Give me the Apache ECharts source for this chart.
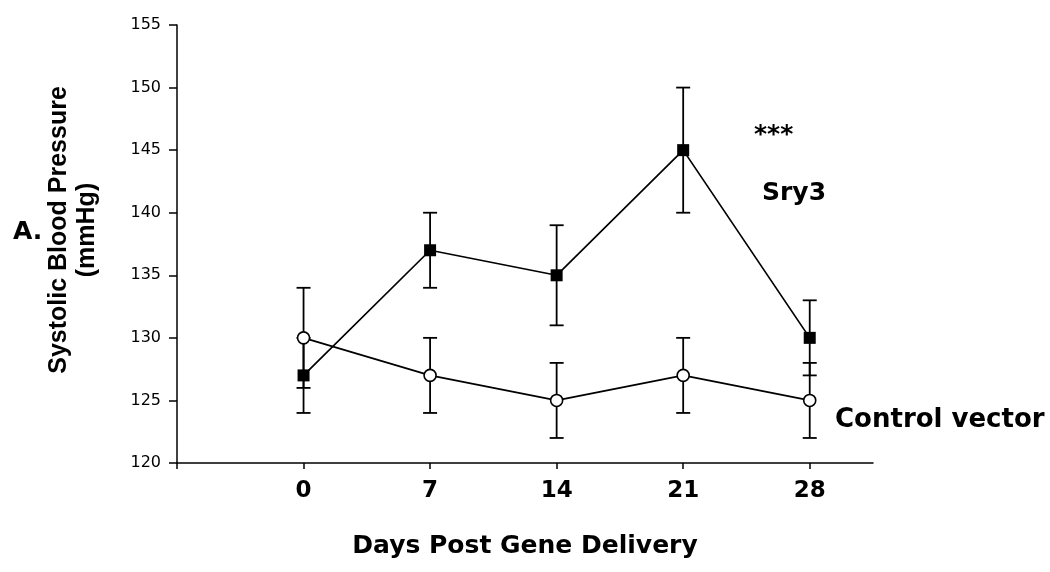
<!DOCTYPE html>
<html>
<head>
<meta charset="utf-8">
<script src="https://cdn.jsdelivr.net/npm/echarts@6/dist/echarts.min.js"></script>
<style>
  html, body { margin: 0; padding: 0; background: #fff; }
  #chart { width: 1050px; height: 572px; }
</style>
</head>
<body>
<div id="chart"></div>
<script>
const days = [0, 7, 14, 21, 28];
const sry3Mean = [127, 137, 135, 145, 130];
const sry3Err = [3, 3, 4, 5, 3];
const controlMean = [130, 127, 125, 127, 125];
const controlErr = [4, 3, 3, 3, 3];
const xTickValues = [-7, 0, 7, 14, 21, 28];

const BOLD = "'DejaVu Sans', sans-serif";
const chart = echarts.init(document.getElementById("chart"));

function errorBars(mean, err) {
  return {
    type: "custom",
    z: 1,
    silent: true,
    data: days.map((d, i) => [d, mean[i], err[i]]),
    renderItem: function (params, api) {
      const x = api.value(0), m = api.value(1), e = api.value(2);
      const top = api.coord([x, m + e]);
      const bot = api.coord([x, m - e]);
      const hw = 7;
      const st = { stroke: "#000", lineWidth: 1.8 };
      return {
        type: "group",
        children: [
          { type: "line", shape: { x1: top[0], y1: top[1], x2: bot[0], y2: bot[1] }, style: st },
          { type: "line", shape: { x1: top[0] - hw, y1: top[1], x2: top[0] + hw, y2: top[1] }, style: st },
          { type: "line", shape: { x1: bot[0] - hw, y1: bot[1], x2: bot[0] + hw, y2: bot[1] }, style: st }
        ]
      };
    }
  };
}

chart.setOption({
  animation: false,
  backgroundColor: "#fff",
  grid: { left: 177, right: 177, top: 25, bottom: 109 },
  xAxis: {
    type: "value",
    min: -7,
    max: 31.5,
    interval: 7,
    name: "Days Post Gene Delivery",
    nameLocation: "middle",
    nameGap: 71,
    nameTextStyle: { fontFamily: BOLD, fontWeight: "bold", fontSize: 25, color: "#000" },
    axisLine: { show: true, onZero: false, lineStyle: { color: "#000", width: 1.5 } },
    axisTick: { show: true, length: 6, customValues: xTickValues, lineStyle: { color: "#000", width: 1.5 } },
    axisLabel: {
      customValues: days,
      margin: 17,
      fontFamily: BOLD,
      fontWeight: "bold",
      fontSize: 23,
      color: "#000"
    },
    splitLine: { show: false }
  },
  yAxis: {
    type: "value",
    min: 120,
    max: 155,
    interval: 5,
    axisLine: { show: true, onZero: false, lineStyle: { color: "#000", width: 1.5 } },
    axisTick: { show: true, length: 8, lineStyle: { color: "#000", width: 1.5 } },
    axisLabel: { margin: 16, fontFamily: "'DejaVu Sans', sans-serif", fontSize: 16, color: "#000" },
    splitLine: { show: false }
  },
  graphic: [
    {
      type: "text", x: 73, y: 230, rotation: Math.PI / 2,
      style: {
        text: "Systolic Blood Pressure\n(mmHg)",
        font: "bold 25px 'Liberation Sans', Arial, sans-serif",
        lineHeight: 28, align: "center", verticalAlign: "middle", fill: "#000"
      }
    },
    { type: "text", left: 13, top: 220, style: { text: "A.", font: "bold 25px " + BOLD, fill: "#000" } },
    { type: "text", x: 754, y: 135, style: { text: "***", font: "bold 25px " + BOLD, fill: "#000", verticalAlign: "middle" } },
    { type: "text", x: 762, y: 193, style: { text: "Sry3", font: "bold 25px " + BOLD, fill: "#000", verticalAlign: "middle" } },
    { type: "text", x: 835, y: 420, style: { text: "Control vector", font: "bold 26px " + BOLD, fill: "#000", verticalAlign: "middle" } }
  ],
  series: [
    errorBars(sry3Mean, sry3Err),
    errorBars(controlMean, controlErr),
    {
      name: "Sry3",
      type: "line",
      z: 3,
      data: days.map((d, i) => [d, sry3Mean[i]]),
      symbol: "rect",
      symbolSize: 12,
      lineStyle: { color: "#000", width: 1.7 },
      itemStyle: { color: "#000", borderColor: "#000", borderWidth: 0 }
    },
    {
      name: "Control vector",
      type: "line",
      z: 3,
      data: days.map((d, i) => [d, controlMean[i]]),
      symbol: "circle",
      symbolSize: 12,
      lineStyle: { color: "#000", width: 1.7 },
      itemStyle: { color: "#fff", borderColor: "#000", borderWidth: 1.6 }
    }
  ]
});
</script>
</body>
</html>
